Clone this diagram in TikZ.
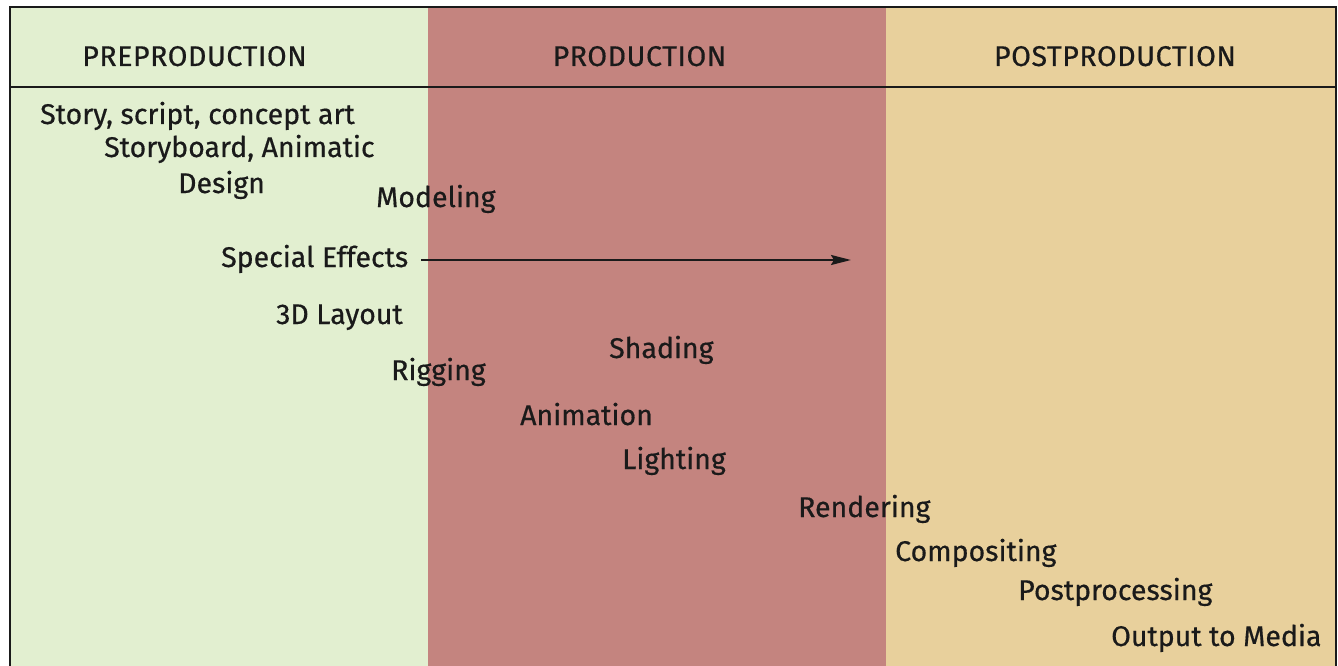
\documentclass[tikz,border=0pt]{standalone}
\usepackage{fontspec}
\setmainfont[FakeBold=0.5]{Fira Sans}
\newfontfamily\headfont[LetterSpace=2,FakeBold=0.5]{Fira Sans}
\usetikzlibrary{arrows.meta}
\definecolor{pregreen}{HTML}{E2EFD0}
\definecolor{prodred}{HTML}{C4847F}
\definecolor{posttan}{HTML}{E8D09C}
\definecolor{inkc}{HTML}{1A1A1A}
\tikzset{
  stage/.style={anchor=base, inner sep=0pt, font=\headfont\fontsize{28.5}{30}\selectfont, text=inkc},
  task/.style={anchor=base west, inner sep=0pt, font=\fontsize{28.5}{30}\selectfont, text=inkc},
  frame/.style={draw=inkc, line width=2pt},
}
\begin{document}
\begin{tikzpicture}[x=1pt,y=-1pt]
\useasboundingbox (0,0) rectangle (1338,666);
\fill[white] (0,0) rectangle (1338,666);
\fill[pregreen] (10,7) rectangle (428,666);
\fill[prodred] (428,7) rectangle (886,666);
\fill[posttan] (886,7) rectangle (1336,666);
\draw[frame] (10,666) -- (10,7) -- (1336,7) -- (1336,666);
\draw[frame] (10,87) -- (1336,87);

\node[stage] (pre) at (194.5,66) {PREPRODUCTION};
\node[stage] (prod) at (639.5,66) {PRODUCTION};
\node[stage] (post) at (1115,66) {POSTPRODUCTION};

\node[task] (story) at (40,124) {Story, script, concept art};
\node[task] (board) at (104,157) {Storyboard, Animatic};
\node[task] (design) at (178,193) {Design};
\node[task] (model) at (376,207) {Modeling};
\node[task] (sfx) at (221,267) {Special Effects};
\node[task] (layout) at (276,324) {3D Layout};
\node[task] (rig) at (391,380) {Rigging};
\node[task] (shade) at (609,358) {Shading};
\node[task] (anim) at (520,425) {Animation};
\node[task] (light) at (622,469) {Lighting};
\node[task] (render) at (798,517) {Rendering};
\node[task] (comp) at (895,561) {Compositing};
\node[task] (postp) at (1018,600) {Postprocessing};
\node[task] (output) at (1111,646) {Output to Media};

\coordinate (sfxend) at (851,260);
\draw[inkc, line width=2pt, -{Stealth[length=20pt,width=10pt,inset=3pt]}]
  ([xshift=13pt,yshift=7pt]sfx.base east) -- (sfxend);
\end{tikzpicture}
\end{document}
